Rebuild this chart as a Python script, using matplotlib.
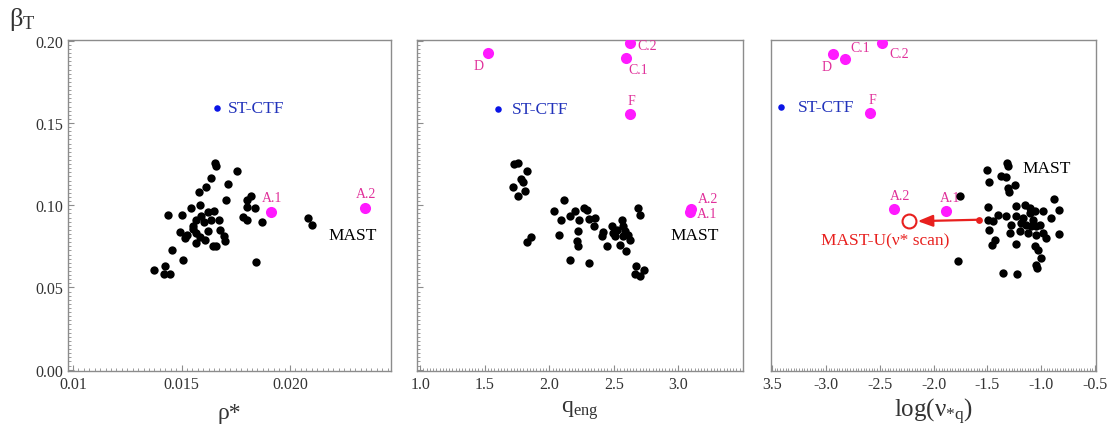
import matplotlib
matplotlib.use("Agg")
import matplotlib.pyplot as plt
from matplotlib.ticker import MultipleLocator, FixedLocator

plt.rcParams['font.family'] = ['Liberation Serif', 'DejaVu Serif']
plt.rcParams['mathtext.fontset'] = 'custom'
plt.rcParams['mathtext.rm'] = 'Liberation Serif'
plt.rcParams['mathtext.it'] = 'Liberation Serif:italic'
plt.rcParams['mathtext.bf'] = 'Liberation Serif:bold'

# ---------------- data ----------------
# Panel 1: beta_T vs rho*
mast_rho = [0.01654, 0.01658, 0.01754, 0.01634, 0.01715, 0.01611, 0.01582, 0.01705, 0.01818,
            0.01543, 0.01585, 0.01800, 0.01803, 0.01838, 0.01438, 0.01503, 0.01623, 0.01649,
            0.01674, 0.01782, 0.01800, 0.01869, 0.02085, 0.02100, 0.01569, 0.01603, 0.01634,
            0.01492, 0.01523, 0.01551, 0.01569, 0.01585, 0.01623, 0.01677, 0.01697, 0.01700,
            0.01515, 0.01566, 0.01608, 0.01643, 0.01658, 0.01454, 0.01505, 0.01374, 0.01423,
            0.01418, 0.01446, 0.01843, 0.01592, 0.01554]
mast_beta1 = [0.1256, 0.1236, 0.1210, 0.1165, 0.1131, 0.1110, 0.1078, 0.1033, 0.1054,
              0.0981, 0.0999, 0.1033, 0.0989, 0.0983, 0.0942, 0.0942, 0.0956, 0.0965,
              0.0912, 0.0928, 0.0908, 0.0896, 0.0924, 0.0877, 0.0912, 0.0896, 0.0912,
              0.0835, 0.0821, 0.0855, 0.0831, 0.0806, 0.0843, 0.0851, 0.0815, 0.0784,
              0.0800, 0.0770, 0.0790, 0.0754, 0.0754, 0.0725, 0.0669, 0.0608, 0.0628,
              0.0582, 0.0584, 0.0655, 0.0936, 0.0871]
pink1_names = ['A.1', 'A.2']
pink1_rho = [0.01912, 0.02346]
pink1_beta = [0.0958, 0.0981]
stctf_rho, stctf_beta1 = 0.01663, 0.1589

# Panel 2: beta_T vs q_eng
mast_q = [1.729, 1.760, 1.831, 1.780, 1.798, 1.716, 1.754, 1.813, 2.113, 2.036, 2.087, 2.164,
          2.202, 2.266, 2.292, 2.228, 2.304, 2.355, 2.343, 2.223, 2.079, 2.215, 2.223, 2.407,
          2.445, 2.419, 2.483, 2.496, 2.522, 2.560, 2.573, 2.586, 2.611, 2.547, 2.598, 2.509,
          2.688, 2.706, 1.857, 1.831, 2.159, 2.309, 2.675, 2.662, 2.701, 2.734, 2.568, 2.624]
mast_beta2 = [0.1250, 0.1256, 0.1206, 0.1159, 0.1139, 0.1114, 0.1054, 0.1084, 0.1029, 0.0963,
              0.0912, 0.0936, 0.0963, 0.0983, 0.0973, 0.0912, 0.0916, 0.0922, 0.0871, 0.0841,
              0.0821, 0.0780, 0.0750, 0.0811, 0.0750, 0.0835, 0.0871, 0.0831, 0.0851, 0.0912,
              0.0871, 0.0841, 0.0821, 0.0760, 0.0719, 0.0811, 0.0983, 0.0942, 0.0806, 0.0774,
              0.0665, 0.0648, 0.0628, 0.0584, 0.0571, 0.0604, 0.0811, 0.0790]
pink2_names = ['D', 'C.2', 'C.1', 'F', 'A.2', 'A.1']
pink2_q = [1.529, 2.629, 2.593, 2.624, 3.097, 3.092]
pink2_beta = [0.1925, 0.1986, 0.1897, 0.1556, 0.0977, 0.0958]
stctf_q, stctf_beta2 = 1.606, 0.1587

# Panel 3: beta_T vs log(nu_*q)
mast_nu = [-1.313, -1.304, -1.507, -1.369, -1.329, -1.483, -1.246, -1.307, -1.298, -1.754,
           -0.882, -0.830, -1.492, -1.230, -1.153, -1.107, -1.061, -0.984, -1.400, -1.323,
           -1.230, -1.169, -1.076, -0.907, -1.492, -1.446, -1.276, -1.184, -1.138, -1.092,
           -1.015, -1.483, -1.292, -1.199, -1.122, -1.045, -0.984, -0.953, -0.830, -1.430,
           -1.461, -1.230, -1.061, -1.030, -0.999, -1.052, -1.036, -1.769, -1.353, -1.221,
           -1.107, -1.045]
mast_beta3 = [0.1260, 0.1236, 0.1212, 0.1175, 0.1171, 0.1139, 0.1125, 0.1104, 0.1078, 0.1058,
              0.1037, 0.0973, 0.0989, 0.0993, 0.1003, 0.0983, 0.0963, 0.0963, 0.0942, 0.0932,
              0.0932, 0.0922, 0.0912, 0.0922, 0.0912, 0.0902, 0.0881, 0.0892, 0.0881, 0.0871,
              0.0881, 0.0851, 0.0831, 0.0841, 0.0831, 0.0821, 0.0831, 0.0800, 0.0827, 0.0786,
              0.0760, 0.0766, 0.0754, 0.0729, 0.0679, 0.0638, 0.0618, 0.0659, 0.0588, 0.0584,
              0.0953, 0.0871]
pink3_names = ['C.2', 'C.1', 'D', 'F', 'A.2', 'A.1']
pink3_nu = [-2.478, -2.822, -2.933, -2.591, -2.364, -1.886]
pink3_beta = [0.1986, 0.1888, 0.1919, 0.1560, 0.0979, 0.0963]
stctf_nu, stctf_beta3 = -3.417, 0.1595
mastu_start_nu, mastu_start_beta = -1.575, 0.0912
mastu_end_nu, mastu_end_beta = -2.231, 0.0902

# tick labels
yticks = [0.00, 0.05, 0.10, 0.15, 0.20]
ytick_labels = ['0.00', '0.05', '0.10', '0.15', '0.20']
x1ticks = [0.010, 0.015, 0.020]
x1tick_labels = ['0.01', '0.015', '0.020']
x2ticks = [1.0, 1.5, 2.0, 2.5, 3.0]
x2tick_labels = ['1.0', '1.5', '2.0', '2.5', '3.0']
x3ticks = [-3.5, -3.0, -2.5, -2.0, -1.5, -1.0, -0.5]
x3tick_labels = ['3.5', '-3.0', '-2.5', '-2.0', '-1.5', '-1.0', '-0.5']

# ---------------- styling ----------------
BLACK = '#000000'
PINK = '#ff1aff'
PINK_TXT = '#e0309a'
BLUE = '#0a14e6'
BLUE_TXT = '#2233bb'
RED = '#e8201e'
FRAME = '#8c8c8c'
TICKC = '#333333'

S_BLACK = 36
S_PINK = 64
S_BLUE = 22
TXT = 12.5

fig = plt.figure(figsize=(11.11, 4.27), dpi=100)
H = 0.776
B = 0.128
ax1 = fig.add_axes([0.0612, B, 0.2907, H])
ax2 = fig.add_axes([0.3753, B, 0.2934, H])
ax3 = fig.add_axes([0.6940, B, 0.2925, H])

for ax in (ax1, ax2, ax3):
    for sp in ax.spines.values():
        sp.set_color(FRAME)
        sp.set_linewidth(1.0)
    ax.set_ylim(-0.001, 0.2005)
    ax.yaxis.set_major_locator(FixedLocator(yticks))
    ax.yaxis.set_minor_locator(MultipleLocator(0.0025))
    ax.tick_params(which='both', direction='in', color=FRAME, labelcolor=TICKC,
                   labelsize=11.5, top=False, right=False)
    ax.tick_params(which='major', length=4, width=0.8)
    ax.tick_params(which='minor', length=2, width=0.6)

ax1.set_yticklabels(ytick_labels)
ax2.set_yticklabels([])
ax3.tick_params(axis='y', which='both', left=False, labelleft=False)

# Panel 1
ax1.set_xlim(0.00977, 0.02465)
ax1.set_xticks(x1ticks)
ax1.set_xticklabels(x1tick_labels)
ax1.xaxis.set_minor_locator(MultipleLocator(0.00025))
ax1.scatter(mast_rho, mast_beta1, s=S_BLACK, color=BLACK, zorder=3, linewidths=0)
ax1.scatter(pink1_rho, pink1_beta, s=S_PINK, color=PINK, zorder=3, linewidths=0)
ax1.scatter([stctf_rho], [stctf_beta1], s=S_BLUE, color=BLUE, zorder=3, linewidths=0)
ax1.text(0.01715, stctf_beta1, 'ST-CTF', color=BLUE_TXT, fontsize=TXT, va='center', ha='left')
for n, x, y in zip(pink1_names, pink1_rho, pink1_beta):
    ax1.annotate(n, (x, y), xytext=(1, 6), textcoords='offset points', ha='center',
                 va='bottom', color=PINK_TXT, fontsize=10)
ax1.text(0.02175, 0.0821, 'MAST', color=BLACK, fontsize=TXT, va='center', ha='left')
ax1.set_xlabel('ρ*', fontsize=17, color=TICKC, labelpad=7)

# Panel 2
ax2.set_xlim(0.975, 3.5)
ax2.set_xticks(x2ticks)
ax2.set_xticklabels(x2tick_labels)
ax2.xaxis.set_minor_locator(MultipleLocator(0.025))
ax2.scatter(mast_q, mast_beta2, s=S_BLACK, color=BLACK, zorder=3, linewidths=0)
ax2.scatter(pink2_q, pink2_beta, s=S_PINK, color=PINK, zorder=3, linewidths=0)
ax2.scatter([stctf_q], [stctf_beta2], s=S_BLUE, color=BLUE, zorder=3, linewidths=0)
ax2.text(1.711, stctf_beta2, 'ST-CTF', color=BLUE_TXT, fontsize=TXT, va='center', ha='left')
lab2_off = {'D': (-7, -4, 'center', 'top'), 'C.2': (5, -2, 'left', 'center'),
            'C.1': (9, -4, 'center', 'top'), 'F': (1, 5, 'center', 'bottom'),
            'A.2': (5, 3, 'left', 'bottom'), 'A.1': (5, -1, 'left', 'center')}
for n, x, y in zip(pink2_names, pink2_q, pink2_beta):
    dx, dy, ha, va = lab2_off[n]
    ax2.annotate(n, (x, y), xytext=(dx, dy), textcoords='offset points', ha=ha,
                 va=va, color=PINK_TXT, fontsize=10)
ax2.text(3.123, 0.0821, 'MAST', color=BLACK, fontsize=TXT, va='center', ha='center')
ax2.set_xlabel(r'$\mathrm{q_{eng}}$', fontsize=17, color=TICKC, labelpad=4)

# Panel 3
ax3.set_xlim(-3.51, -0.49)
ax3.set_xticks(x3ticks)
ax3.set_xticklabels(x3tick_labels)
ax3.xaxis.set_minor_locator(MultipleLocator(0.025))
ax3.scatter(pink3_nu, pink3_beta, s=S_PINK, color=PINK, zorder=3, linewidths=0)
lab3_off = {'C.2': (5, -3, 'left', 'top'), 'C.1': (4, 4, 'left', 'bottom'),
            'D': (-5, -4, 'center', 'top'), 'F': (2, 5, 'center', 'bottom'),
            'A.2': (4, 5, 'center', 'bottom'), 'A.1': (3, 5, 'center', 'bottom')}
for n, x, y in zip(pink3_names, pink3_nu, pink3_beta):
    dx, dy, ha, va = lab3_off[n]
    ax3.annotate(n, (x, y), xytext=(dx, dy), textcoords='offset points', ha=ha,
                 va=va, color=PINK_TXT, fontsize=10)
ax3.scatter(mast_nu, mast_beta3, s=S_BLACK, color=BLACK, zorder=4, linewidths=0)
ax3.scatter([stctf_nu], [stctf_beta3], s=S_BLUE, color=BLUE, zorder=3, linewidths=0)
ax3.text(-3.263, stctf_beta3, 'ST-CTF', color=BLUE_TXT, fontsize=TXT, va='center', ha='left')
ax3.text(-1.169, 0.1226, 'MAST', color=BLACK, fontsize=TXT, va='center', ha='left')
ax3.annotate('', xy=(mastu_end_nu, mastu_end_beta), xytext=(mastu_start_nu, mastu_start_beta),
             arrowprops=dict(arrowstyle='-|>,head_length=0.9,head_width=0.35', color=RED,
                             lw=1.6, shrinkA=0, shrinkB=6.5), zorder=5)
ax3.scatter([mastu_start_nu], [mastu_start_beta], s=24, color=RED, zorder=6, linewidths=0)
ax3.scatter([mastu_end_nu], [mastu_end_beta], s=100, facecolor='white', edgecolor=RED,
            linewidths=1.5, zorder=6)
ax3.text(-2.447, 0.0786, 'MAST-U(ν* scan)', color=RED, fontsize=TXT, va='center', ha='center')
ax3.set_xlabel(r'$\mathrm{log(\nu_{*q})}$', fontsize=18, color=TICKC, labelpad=3)

fig.text(0.008, 0.955, r'$\mathrm{\beta_T}$', fontsize=19, color=TICKC, ha='left', va='center')

fig.savefig('out.png', dpi=100)
